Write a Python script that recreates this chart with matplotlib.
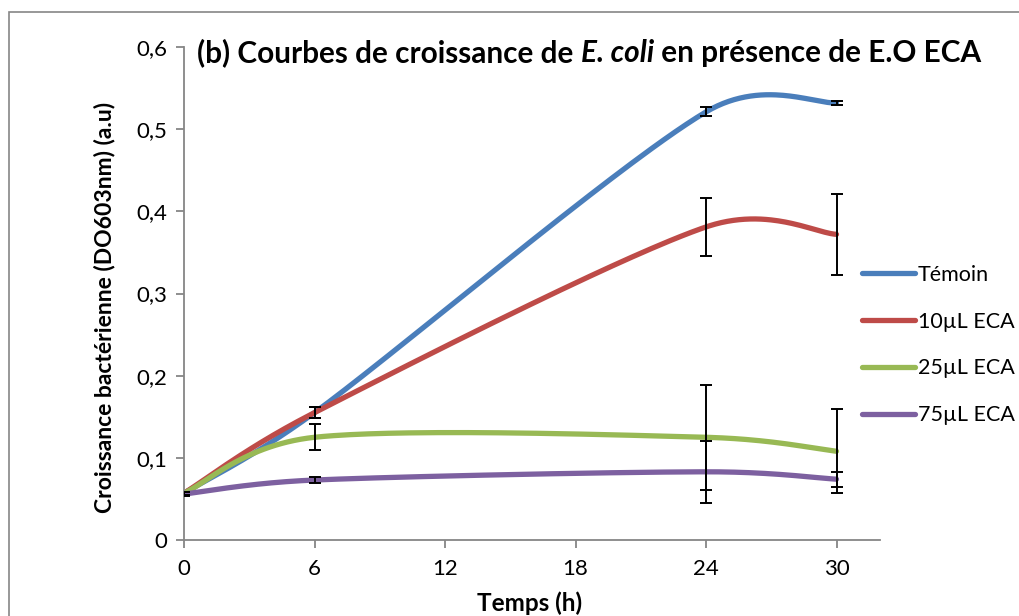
import numpy as np
import matplotlib
matplotlib.use("Agg")
import matplotlib.pyplot as plt
from matplotlib.patches import Rectangle

plt.rcParams['font.family'] = ['Lato', 'DejaVu Sans']

# temps de mesure (h) et DO moyennes
temps = [0, 6, 24, 30]
series = ["Témoin", "10µL ECA", "25µL ECA", "75µL ECA"]
do_temoin = [0.057, 0.155, 0.521, 0.532]
do_10 = [0.057, 0.155, 0.381, 0.372]
do_25 = [0.057, 0.125, 0.125, 0.108]
do_75 = [0.056, 0.073, 0.083, 0.074]
# écarts-types
err_temoin = [0.002, 0.007, 0.0055, 0.0025]
err_10 = [0.002, 0.007, 0.035, 0.0497]
err_25 = [0.002, 0.016, 0.064, 0.051]
err_75 = [0.002, 0.004, 0.038, 0.009]
couleurs = ["#4A7EBB", "#BE4B48", "#98B954", "#7D60A0"]

x_ticks = [0, 6, 12, 18, 24, 30]
y_ticks = [0, 0.1, 0.2, 0.3, 0.4, 0.5, 0.6]
y_labels = ["0", "0,1", "0,2", "0,3", "0,4", "0,5", "0,6"]


def courbe_lissee(ax, x, y, n=60):
    # courbe lissee type tableur : Bezier cubique, tangentes de Catmull-Rom
    # calculees en pixels, poignees limitees a la moitie du segment
    p = ax.transData.transform(np.column_stack([x, y]).astype(float))
    pts = []
    for i in range(len(p) - 1):
        p0 = p[i - 1] if i > 0 else p[i]
        p1, p2 = p[i], p[i + 1]
        p3 = p[i + 2] if i + 2 < len(p) else p[i + 1]
        seg = np.linalg.norm(p2 - p1)
        d1 = (p2 - p0) / 6
        d2 = (p3 - p1) / 6
        for d in (d1, d2):
            L = np.linalg.norm(d)
            if L > seg / 2:
                d *= seg / 2 / L
        c1 = p1 + d1
        c2 = p2 - d2
        t = np.linspace(0, 1, n)[:, None]
        b = (1 - t) ** 3 * p1 + 3 * (1 - t) ** 2 * t * c1 + 3 * (1 - t) * t ** 2 * c2 + t ** 3 * p2
        pts.append(b)
    pts = ax.transData.inverted().transform(np.vstack(pts))
    return pts[:, 0], pts[:, 1]


W, H = 1019, 616
fig = plt.figure(figsize=(W / 100, H / 100), dpi=100)
ax = fig.add_axes([184 / W, 1 - 540 / H, (880 - 184) / W, (540 - 47) / H])
ax.set_xlim(0, 32)
ax.set_ylim(0, 0.6)

gris = "#868686"
# cadre du graphique
fig.patches.append(Rectangle((9 / W, -0.1), 1.2, 1 - 12 / H + 0.1, transform=fig.transFigure,
                             fill=False, edgecolor=gris, linewidth=1.2, zorder=0))

donnees = [do_temoin, do_10, do_25, do_75]
erreurs = [err_temoin, err_10, err_25, err_75]
for y, e in zip(donnees, erreurs):
    ax.errorbar(temps, y, yerr=e, fmt="none", ecolor="black", elinewidth=1.4,
                capsize=4.5, capthick=1.4, zorder=3)
for nom, y, c in zip(series, donnees, couleurs):
    xs, ys = courbe_lissee(ax, temps, y)
    ax.plot(xs, ys, color=c, linewidth=3.8, solid_capstyle="round", label=nom, zorder=2)

ax.set_xlim(0, 32)
ax.set_ylim(0, 0.6)
ax.set_xticks(x_ticks)
ax.set_yticks(y_ticks)
ax.set_yticklabels(y_labels)
for s in ["top", "right"]:
    ax.spines[s].set_visible(False)
for s in ["left", "bottom"]:
    ax.spines[s].set_color(gris)
    ax.spines[s].set_linewidth(1.3)
ax.tick_params(axis="both", colors=gris, labelcolor="black", labelsize=16, width=1.3, length=6)
ax.tick_params(axis="x", pad=8)
ax.tick_params(axis="y", pad=6)

fig.text(105 / W, 1 - 307 / H, "Croissance bactérienne (DO603nm) (a.u)", rotation=90,
         ha="center", va="center", fontsize=16.5, fontweight="bold")
fig.text(530 / W, 1 - 603 / H, "Temps (h)", ha="center", va="center", fontsize=17.5, fontweight="bold")

# titre en trois morceaux (nom d'espece en italique)
morceaux = [("(b) Courbes de croissance de ", "normal"), ("E. coli", "italic"),
            (" en présence de E.O ECA", "normal")]
fig.canvas.draw()
rend = fig.canvas.get_renderer()
x0 = 197
for txt, style in morceaux:
    t = fig.text(x0 / W, 1 - 53 / H, txt, ha="left", va="center", fontsize=21.4,
                 fontweight="bold", fontstyle=style)
    x0 = t.get_window_extent(rend).x1

fig.legend(loc="upper left", bbox_to_anchor=(853 / W, 1 - 256 / H), frameon=False,
           fontsize=15.5, handlelength=2.5, handletextpad=0.12, labelspacing=1.25,
           borderaxespad=0)

fig.savefig("out.png", dpi=100)
